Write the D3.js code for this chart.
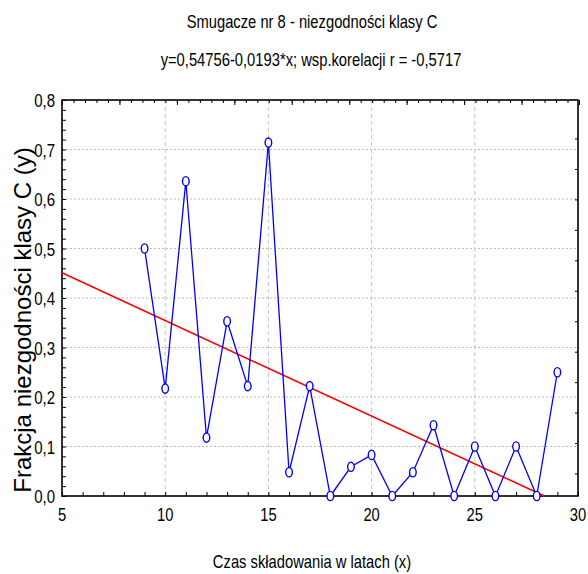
<!DOCTYPE html>
<html>
<head>
<meta charset="utf-8">
<script src="https://cdn.jsdelivr.net/npm/d3@7"></script>
<style>
  html, body { margin: 0; padding: 0; background: #fff; }
  svg text { font-family: "Liberation Sans", Arial, sans-serif; fill: #000; }
</style>
</head>
<body>
<svg id="chart" width="588" height="574"></svg>
<script>
// lata składowania i frakcja niezgodności
const years = [9, 10, 11, 12, 13, 14, 15, 16, 17, 18, 19, 20, 21, 22, 23, 24, 25, 26, 27, 28, 29];
const fraction = [0.5, 0.217, 0.636, 0.118, 0.353, 0.222, 0.714, 0.048, 0.222, 0, 0.059,
  0.083, 0, 0.048, 0.143, 0, 0.1, 0, 0.1, 0, 0.25];
const xTicks = [5, 10, 15, 20, 25, 30];
const yTicks = [0, 0.1, 0.2, 0.3, 0.4, 0.5, 0.6, 0.7, 0.8];
const fitA = 0.54756, fitB = -0.0193;

const svg = d3.select('#chart');
const pLeft = 62, pRight = 578, pTop = 100, pBottom = 496;
const narrow = 0.82; // brak Arial Narrow - ściskamy Liberation Sans

const x = d3.scaleLinear().domain([5, 30]).range([pLeft, pRight]);
const y = d3.scaleLinear().domain([0, 0.8]).range([pBottom, pTop]);
const fmt = d => d3.format('.1f')(d).replace('.', ',');

// siatka
svg.append('g').selectAll('line')
  .data(yTicks.filter(d => d > 0 && d < 0.8))
  .enter().append('line')
  .attr('x1', pLeft).attr('x2', pRight)
  .attr('y1', d => y(d)).attr('y2', d => y(d))
  .attr('stroke', '#bdbdbd').attr('stroke-width', 1).attr('stroke-dasharray', '2,2');
svg.append('g').selectAll('line')
  .data(xTicks.filter(d => d > 5 && d < 30))
  .enter().append('line')
  .attr('x1', d => x(d)).attr('x2', d => x(d))
  .attr('y1', pTop).attr('y2', pBottom)
  .attr('stroke', '#c4c4c4').attr('stroke-width', 1).attr('stroke-dasharray', '4,3');

// osie wewnętrzne (tick do środka)
svg.append('g')
  .attr('transform', `translate(0,${pBottom})`)
  .call(d3.axisTop(x).tickValues(d3.range(5, 31, 1)).tickSize(4).tickFormat(''))
  .call(g => g.select('.domain').remove());
svg.append('g')
  .attr('transform', `translate(${pLeft},0)`)
  .call(d3.axisRight(y).tickValues(d3.range(0, 0.801, 0.02)).tickSize(4).tickFormat(''))
  .call(g => g.select('.domain').remove());

// oś górna i prawa (pomocnicze, bez opisów)
const xTop = d3.scaleLinear().domain([0, 9]).range([pLeft, pRight + 1]);
svg.append('g')
  .attr('transform', `translate(0,${pTop})`)
  .call(d3.axisBottom(xTop).tickValues(d3.range(0, 9.01, 0.2)).tickSize(3).tickFormat(''))
  .call(g => g.select('.domain').remove());
svg.append('g')
  .attr('transform', `translate(0,${pTop})`)
  .call(d3.axisBottom(xTop).tickValues(d3.range(0, 10, 1)).tickSize(5).tickFormat(''))
  .call(g => g.select('.domain').remove());
const yRight = d3.scaleLinear().domain([0, 13]).range([pBottom + 8, pTop + 8]);
svg.append('g')
  .attr('transform', `translate(${pRight},0)`)
  .call(d3.axisLeft(yRight).tickValues(d3.range(1, 13, 1)).tickSize(3).tickFormat(''))
  .call(g => g.select('.domain').remove());

svg.selectAll('.tick line').attr('stroke', '#000');

// ramka
svg.append('rect')
  .attr('x', pLeft).attr('y', pTop)
  .attr('width', pRight - pLeft).attr('height', pBottom - pTop)
  .attr('fill', 'none').attr('stroke', '#000').attr('stroke-width', 1.6);

// opisy osi
svg.append('g').selectAll('text')
  .data(yTicks).enter().append('text')
  .attr('transform', d => `translate(${pLeft - 7},${y(d) + 7}) scale(${narrow - 0.03},1)`)
  .attr('text-anchor', 'end').attr('font-size', 19)
  .text(fmt);
svg.append('g').selectAll('text')
  .data(xTicks).enter().append('text')
  .attr('transform', d => `translate(${x(d)},${pBottom + 25}) scale(${narrow},1)`)
  .attr('text-anchor', 'middle').attr('font-size', 18)
  .text(d => d);

// linia regresji
const fitEnd = -fitA / fitB;
const fitPts = [5, fitEnd].map(v => [v, fitA + fitB * v]);
svg.append('path')
  .datum(fitPts)
  .attr('d', d3.line().x(d => x(d[0])).y(d => y(d[1])))
  .attr('fill', 'none').attr('stroke', '#ff0000').attr('stroke-width', 1.6);

// seria danych
const pts = years.map((v, i) => [v, fraction[i]]);
svg.append('path')
  .datum(pts)
  .attr('d', d3.line().x(d => x(d[0])).y(d => y(d[1])))
  .attr('fill', 'none').attr('stroke', '#0000ff').attr('stroke-width', 1.3);
svg.append('g').selectAll('ellipse')
  .data(pts).enter().append('ellipse')
  .attr('cx', d => x(d[0])).attr('cy', d => y(d[1]))
  .attr('rx', 3.3).attr('ry', 4.6)
  .attr('fill', '#fff').attr('stroke', '#0000ff').attr('stroke-width', 1.4);

// tytuły
svg.append('text')
  .attr('transform', `translate(312,28) scale(${narrow},1)`)
  .attr('text-anchor', 'middle').attr('font-size', 18)
  .text('Smugacze nr 8 - niezgodności klasy C');
svg.append('text')
  .attr('transform', `translate(311,66) scale(${narrow},1)`)
  .attr('text-anchor', 'middle').attr('font-size', 18)
  .text('y=0,54756-0,0193*x; wsp.korelacji r = -0,5717');
svg.append('text')
  .attr('transform', `translate(312,568) scale(${narrow},1)`)
  .attr('text-anchor', 'middle').attr('font-size', 18)
  .text('Czas składowania w latach (x)');
svg.append('text')
  .attr('transform', 'translate(31,320) rotate(-90)')
  .attr('text-anchor', 'middle').attr('font-size', 24)
  .text('Frakcja niezgodności klasy C (y)');
</script>
</body>
</html>
